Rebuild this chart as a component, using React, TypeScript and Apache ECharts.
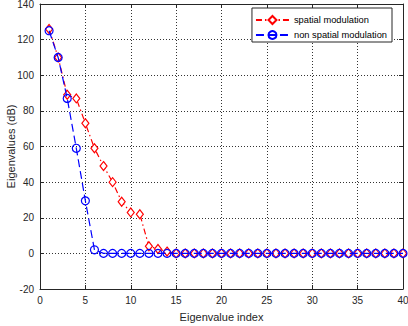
import React, { useEffect, useRef } from "react";
import * as echarts from "echarts";

const indices = Array.from({ length: 40 }, (_, i) => i + 1);
const spatial = [126, 110, 89, 87, 73, 59, 49, 40, 29, 23, 22, 4, 2.5, 1, 0, 0, 0, 0, 0, 0, 0, 0, 0, 0, 0, 0, 0, 0, 0, 0, 0, 0, 0, 0, 0, 0, 0, 0, 0, 0];
const nonSpatial = [125, 110, 87, 59, 29.5, 2, 0, 0, 0, 0, 0, 0, 0, 0, 0, 0, 0, 0, 0, 0, 0, 0, 0, 0, 0, 0, 0, 0, 0, 0, 0, 0, 0, 0, 0, 0, 0, 0, 0, 0];
const seriesNames = ["spatial modulation", "non spatial modulation"];

export default function App() {
  const ref = useRef<HTMLDivElement>(null);
  useEffect(() => {
    if (!ref.current) return;
    document.body.style.margin = "0";
    const chart = echarts.init(ref.current, null, { renderer: "svg" });
    const font = "Liberation Sans, Arial, sans-serif";
    const axisCol = "#262626";
    chart.setOption({
      animation: false,
      textStyle: { fontFamily: font },
      grid: { left: 40, right: 5, top: 4, bottom: 37, show: false, containLabel: false, outerBoundsMode: "none" },
      legend: {
        right: 16,
        top: 8,
        orient: "vertical",
        data: seriesNames,
        backgroundColor: "#fff",
        borderColor: axisCol,
        borderWidth: 1,
        borderRadius: 0,
        padding: [7, 5, 2, 3],
        itemWidth: 33,
        itemHeight: 10,
        itemGap: 5,
        textStyle: { fontSize: 9.3, color: "#000", fontFamily: font },
      },
      xAxis: [
        {
          type: "value",
          min: 0,
          max: 40,
          interval: 5,
          name: "Eigenvalue index",
          nameLocation: "middle",
          nameGap: 22,
          nameMoveOverlap: false,
          nameTextStyle: { fontSize: 11, color: axisCol },
          axisLine: { show: true, onZero: false, lineStyle: { color: axisCol } },
          axisTick: { inside: true, length: 4, lineStyle: { color: axisCol } },
          axisLabel: { fontSize: 10, color: axisCol, margin: 6, showMaxLabel: true, showMinLabel: true },
          splitLine: { show: true, lineStyle: { color: "#333", type: [1, 2], width: 1 } },
        },
        {
          type: "value",
          position: "top",
          min: 0,
          max: 40,
          interval: 5,
          axisLine: { show: true, onZero: false, lineStyle: { color: axisCol } },
          axisTick: { inside: true, length: 4, lineStyle: { color: axisCol } },
          axisLabel: { show: false },
          splitLine: { show: false },
        },
      ],
      yAxis: [
        {
          type: "value",
          min: -20,
          max: 140,
          interval: 20,
          name: "Eigenvalues (dB)",
          nameLocation: "middle",
          nameGap: 24,
          nameMoveOverlap: false,
          nameTextStyle: { fontSize: 11, color: axisCol },
          axisLine: { show: true, onZero: false, lineStyle: { color: axisCol } },
          axisTick: { inside: true, length: 4, lineStyle: { color: axisCol } },
          axisLabel: { fontSize: 10, color: axisCol, margin: 6 },
          splitLine: { show: true, lineStyle: { color: "#333", type: [1, 2], width: 1 } },
        },
        {
          type: "value",
          position: "right",
          min: -20,
          max: 140,
          interval: 20,
          axisLine: { show: true, onZero: false, lineStyle: { color: axisCol } },
          axisTick: { inside: true, length: 4, lineStyle: { color: axisCol } },
          axisLabel: { show: false },
          splitLine: { show: false },
        },
      ],
      series: [
        {
          name: seriesNames[0],
          type: "line",
          data: indices.map((x, i) => [x, spatial[i]]),
          symbol: "diamond",
          symbolSize: [7, 9],
          showAllSymbol: true,
          lineStyle: { color: "#ff0000", width: 1.2, type: [6, 3, 1.5, 3] },
          itemStyle: { color: "#ffffff", borderColor: "#ff0000", borderWidth: 1.2 },
          z: 3,
        },
        {
          name: seriesNames[1],
          type: "line",
          data: indices.map((x, i) => [x, nonSpatial[i]]),
          symbol: "circle",
          symbolSize: 8,
          showAllSymbol: true,
          lineStyle: { color: "#0000ff", width: 1.2, type: [8, 4] },
          itemStyle: { color: "rgba(255,255,255,0)", borderColor: "#0000ff", borderWidth: 1.2 },
          z: 4,
        },
      ],
    });
    return () => chart.dispose();
  }, []);
  return <div ref={ref} style={{ width: 408, height: 326 }} />;
}
